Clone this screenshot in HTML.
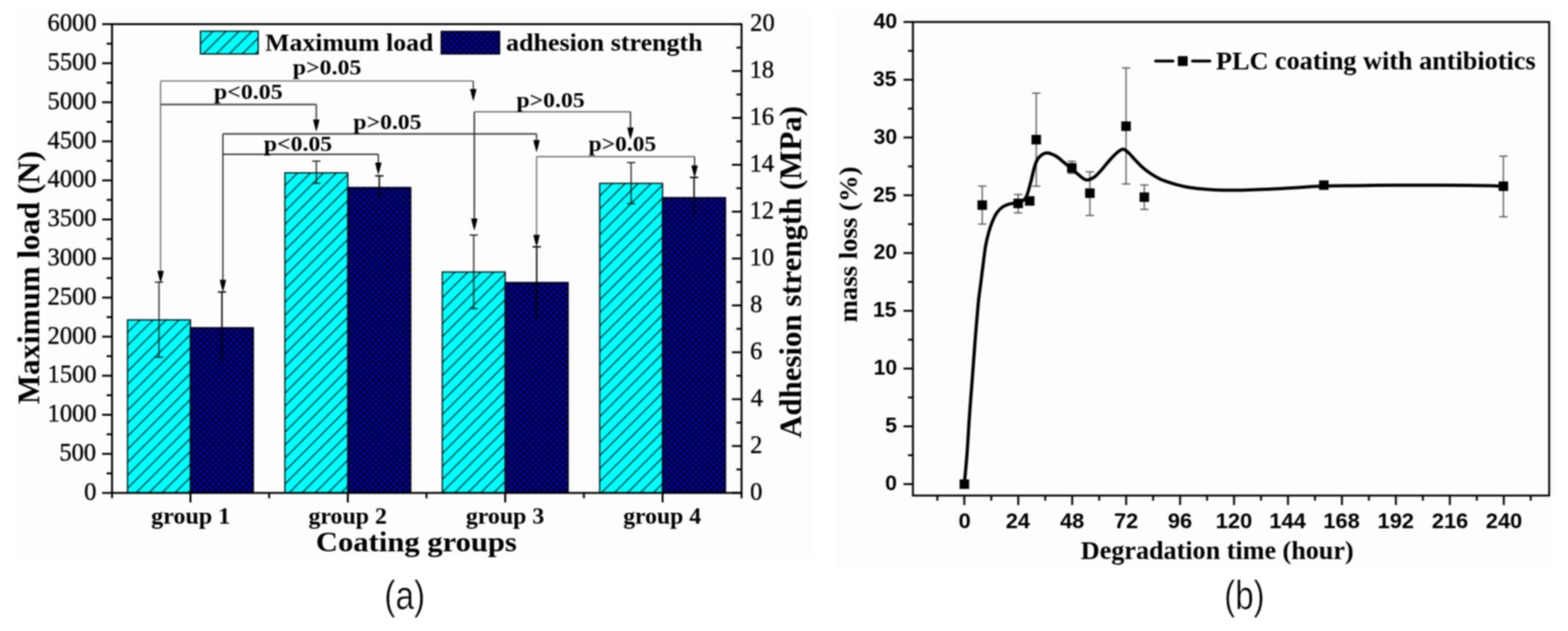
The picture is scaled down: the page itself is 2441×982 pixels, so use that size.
<!DOCTYPE html><html><head><meta charset="utf-8"><title>Figure</title><style>html,body{margin:0;padding:0;background:#fff;overflow:hidden;}svg{display:block;filter:blur(1px);}</style></head><body>
<svg width="2441" height="982" viewBox="0 0 2441 982">
<defs>
<pattern id="check" patternUnits="userSpaceOnUse" width="9.4" height="9.5">
<rect width="9.4" height="9.5" fill="#000006"/>
<rect x="0" y="0" width="4.7" height="4.75" fill="#0000c0"/>
<rect x="4.7" y="4.75" width="4.7" height="4.75" fill="#0000c0"/>
</pattern>
<filter id="soft" x="-5%" y="-5%" width="110%" height="110%"><feGaussianBlur stdDeviation="1.0"/></filter>
</defs>
<rect width="2441" height="982" fill="#ffffff"/>
<rect x="22" y="15" width="1240" height="855" fill="#fdfdfd"/>
<rect x="1300" y="16" width="1119" height="868" fill="#fdfdfd"/>
<defs><pattern id="h0" patternUnits="userSpaceOnUse" width="20.2" height="20.2" patternTransform="translate(218.30,497.80)"><rect width="20.2" height="20.2" fill="#00ffff"/><path d="M-2,2 L2,-2 M0,20.2 L20.2,0 M18.2,22.2 L22.2,18.2" stroke="#001414" stroke-width="1.6"/></pattern></defs>
<rect x="198.50" y="497.80" width="98" height="269.30" fill="url(#h0)" stroke="#000" stroke-width="1.8"/>
<g><rect x="296.50" y="510.00" width="98" height="257.10" fill="url(#check)"/></g>
<rect x="296.50" y="510.00" width="98" height="257.10" fill="none" stroke="#000" stroke-width="1.8"/>
<defs><pattern id="h1" patternUnits="userSpaceOnUse" width="20.2" height="20.2" patternTransform="translate(463.30,269.00)"><rect width="20.2" height="20.2" fill="#00ffff"/><path d="M-2,2 L2,-2 M0,20.2 L20.2,0 M18.2,22.2 L22.2,18.2" stroke="#001414" stroke-width="1.6"/></pattern></defs>
<rect x="443.50" y="269.00" width="98" height="498.10" fill="url(#h1)" stroke="#000" stroke-width="1.8"/>
<g><rect x="541.50" y="291.70" width="98" height="475.40" fill="url(#check)"/></g>
<rect x="541.50" y="291.70" width="98" height="475.40" fill="none" stroke="#000" stroke-width="1.8"/>
<defs><pattern id="h2" patternUnits="userSpaceOnUse" width="20.2" height="20.2" patternTransform="translate(708.30,423.30)"><rect width="20.2" height="20.2" fill="#00ffff"/><path d="M-2,2 L2,-2 M0,20.2 L20.2,0 M18.2,22.2 L22.2,18.2" stroke="#001414" stroke-width="1.6"/></pattern></defs>
<rect x="688.50" y="423.30" width="98" height="343.80" fill="url(#h2)" stroke="#000" stroke-width="1.8"/>
<g><rect x="786.50" y="439.60" width="98" height="327.50" fill="url(#check)"/></g>
<rect x="786.50" y="439.60" width="98" height="327.50" fill="none" stroke="#000" stroke-width="1.8"/>
<defs><pattern id="h3" patternUnits="userSpaceOnUse" width="20.2" height="20.2" patternTransform="translate(953.30,285.30)"><rect width="20.2" height="20.2" fill="#00ffff"/><path d="M-2,2 L2,-2 M0,20.2 L20.2,0 M18.2,22.2 L22.2,18.2" stroke="#001414" stroke-width="1.6"/></pattern></defs>
<rect x="933.50" y="285.30" width="98" height="481.80" fill="url(#h3)" stroke="#000" stroke-width="1.8"/>
<g><rect x="1031.50" y="307.50" width="98" height="459.60" fill="url(#check)"/></g>
<rect x="1031.50" y="307.50" width="98" height="459.60" fill="none" stroke="#000" stroke-width="1.8"/>
<line x1="247.50" y1="439.10" x2="247.50" y2="555.90" stroke="#111" stroke-width="1.8" />
<line x1="241.00" y1="439.10" x2="254.00" y2="439.10" stroke="#111" stroke-width="1.8" />
<line x1="241.00" y1="555.90" x2="254.00" y2="555.90" stroke="#111" stroke-width="1.8" />
<line x1="345.50" y1="454.40" x2="345.50" y2="565.60" stroke="#000" stroke-width="2.2" />
<line x1="339.00" y1="454.40" x2="352.00" y2="454.40" stroke="#000" stroke-width="2.2" />
<line x1="492.50" y1="250.70" x2="492.50" y2="285.30" stroke="#111" stroke-width="1.8" />
<line x1="486.00" y1="250.70" x2="499.00" y2="250.70" stroke="#111" stroke-width="1.8" />
<line x1="486.00" y1="285.30" x2="499.00" y2="285.30" stroke="#111" stroke-width="1.8" />
<line x1="590.50" y1="273.70" x2="590.50" y2="309.70" stroke="#000" stroke-width="2.2" />
<line x1="584.00" y1="273.70" x2="597.00" y2="273.70" stroke="#000" stroke-width="2.2" />
<line x1="737.50" y1="365.80" x2="737.50" y2="480.30" stroke="#111" stroke-width="1.8" />
<line x1="731.00" y1="365.80" x2="744.00" y2="365.80" stroke="#111" stroke-width="1.8" />
<line x1="731.00" y1="480.30" x2="744.00" y2="480.30" stroke="#111" stroke-width="1.8" />
<line x1="835.50" y1="384.10" x2="835.50" y2="495.00" stroke="#000" stroke-width="2.2" />
<line x1="829.00" y1="384.10" x2="842.00" y2="384.10" stroke="#000" stroke-width="2.2" />
<line x1="982.50" y1="253.10" x2="982.50" y2="316.90" stroke="#111" stroke-width="1.8" />
<line x1="976.00" y1="253.10" x2="989.00" y2="253.10" stroke="#111" stroke-width="1.8" />
<line x1="976.00" y1="316.90" x2="989.00" y2="316.90" stroke="#111" stroke-width="1.8" />
<line x1="1080.50" y1="276.10" x2="1080.50" y2="339.00" stroke="#000" stroke-width="2.2" />
<line x1="1074.00" y1="276.10" x2="1087.00" y2="276.10" stroke="#000" stroke-width="2.2" />
<path d="M250.00,430.50 L250.00,126.00" fill="none" stroke="#7a7a7a" stroke-width="2.1"/>
<path d="M250.00,126.00 L736.80,126.00" fill="none" stroke="#7a7a7a" stroke-width="2.1"/>
<path d="M736.80,126.00 L736.80,147.50" fill="none" stroke="#444" stroke-width="2.1"/>
<path d="M250.00,162.60 L492.40,162.60" fill="none" stroke="#333" stroke-width="2.1"/>
<path d="M492.40,162.60 L492.40,195.00" fill="none" stroke="#333" stroke-width="2.1"/>
<path d="M347.00,444.50 L347.00,208.40" fill="none" stroke="#333" stroke-width="2.1"/>
<path d="M347.00,208.40 L835.30,208.40" fill="none" stroke="#333" stroke-width="2.1"/>
<path d="M835.30,208.40 L835.30,227.00" fill="none" stroke="#333" stroke-width="2.1"/>
<path d="M347.00,240.10 L589.00,240.10" fill="none" stroke="#333" stroke-width="2.1"/>
<path d="M589.00,240.10 L589.00,262.00" fill="none" stroke="#333" stroke-width="2.1"/>
<path d="M738.40,349.00 L738.40,174.00" fill="none" stroke="#222" stroke-width="2.1"/>
<path d="M738.40,174.00 L981.50,174.00" fill="none" stroke="#666" stroke-width="2.1"/>
<path d="M981.50,174.00 L981.50,207.50" fill="none" stroke="#333" stroke-width="2.1"/>
<path d="M835.30,374.50 L835.30,243.80" fill="none" stroke="#777" stroke-width="2.1"/>
<path d="M835.30,243.80 L1081.30,243.80" fill="none" stroke="#666" stroke-width="2.1"/>
<path d="M1081.30,243.80 L1081.30,266.50" fill="none" stroke="#333" stroke-width="2.1"/>
<rect x="174.4" y="37.6" width="980.0000000000001" height="729.5" fill="none" stroke="#000" stroke-width="3"/>
<line x1="159.00" y1="767.10" x2="174.40" y2="767.10" stroke="#000" stroke-width="3" />
<line x1="166.00" y1="736.70" x2="174.40" y2="736.70" stroke="#000" stroke-width="3" />
<line x1="159.00" y1="706.31" x2="174.40" y2="706.31" stroke="#000" stroke-width="3" />
<line x1="166.00" y1="675.91" x2="174.40" y2="675.91" stroke="#000" stroke-width="3" />
<line x1="159.00" y1="645.52" x2="174.40" y2="645.52" stroke="#000" stroke-width="3" />
<line x1="166.00" y1="615.12" x2="174.40" y2="615.12" stroke="#000" stroke-width="3" />
<line x1="159.00" y1="584.73" x2="174.40" y2="584.73" stroke="#000" stroke-width="3" />
<line x1="166.00" y1="554.33" x2="174.40" y2="554.33" stroke="#000" stroke-width="3" />
<line x1="159.00" y1="523.93" x2="174.40" y2="523.93" stroke="#000" stroke-width="3" />
<line x1="166.00" y1="493.54" x2="174.40" y2="493.54" stroke="#000" stroke-width="3" />
<line x1="159.00" y1="463.14" x2="174.40" y2="463.14" stroke="#000" stroke-width="3" />
<line x1="166.00" y1="432.75" x2="174.40" y2="432.75" stroke="#000" stroke-width="3" />
<line x1="159.00" y1="402.35" x2="174.40" y2="402.35" stroke="#000" stroke-width="3" />
<line x1="166.00" y1="371.95" x2="174.40" y2="371.95" stroke="#000" stroke-width="3" />
<line x1="159.00" y1="341.56" x2="174.40" y2="341.56" stroke="#000" stroke-width="3" />
<line x1="166.00" y1="311.16" x2="174.40" y2="311.16" stroke="#000" stroke-width="3" />
<line x1="159.00" y1="280.77" x2="174.40" y2="280.77" stroke="#000" stroke-width="3" />
<line x1="166.00" y1="250.37" x2="174.40" y2="250.37" stroke="#000" stroke-width="3" />
<line x1="159.00" y1="219.98" x2="174.40" y2="219.98" stroke="#000" stroke-width="3" />
<line x1="166.00" y1="189.58" x2="174.40" y2="189.58" stroke="#000" stroke-width="3" />
<line x1="159.00" y1="159.18" x2="174.40" y2="159.18" stroke="#000" stroke-width="3" />
<line x1="166.00" y1="128.79" x2="174.40" y2="128.79" stroke="#000" stroke-width="3" />
<line x1="159.00" y1="98.39" x2="174.40" y2="98.39" stroke="#000" stroke-width="3" />
<line x1="166.00" y1="68.00" x2="174.40" y2="68.00" stroke="#000" stroke-width="3" />
<line x1="159.00" y1="37.60" x2="174.40" y2="37.60" stroke="#000" stroke-width="3" />
<line x1="1139.40" y1="767.10" x2="1154.40" y2="767.10" stroke="#000" stroke-width="3" />
<line x1="1146.40" y1="730.62" x2="1154.40" y2="730.62" stroke="#000" stroke-width="3" />
<line x1="1139.40" y1="694.15" x2="1154.40" y2="694.15" stroke="#000" stroke-width="3" />
<line x1="1146.40" y1="657.68" x2="1154.40" y2="657.68" stroke="#000" stroke-width="3" />
<line x1="1139.40" y1="621.20" x2="1154.40" y2="621.20" stroke="#000" stroke-width="3" />
<line x1="1146.40" y1="584.73" x2="1154.40" y2="584.73" stroke="#000" stroke-width="3" />
<line x1="1139.40" y1="548.25" x2="1154.40" y2="548.25" stroke="#000" stroke-width="3" />
<line x1="1146.40" y1="511.78" x2="1154.40" y2="511.78" stroke="#000" stroke-width="3" />
<line x1="1139.40" y1="475.30" x2="1154.40" y2="475.30" stroke="#000" stroke-width="3" />
<line x1="1146.40" y1="438.83" x2="1154.40" y2="438.83" stroke="#000" stroke-width="3" />
<line x1="1139.40" y1="402.35" x2="1154.40" y2="402.35" stroke="#000" stroke-width="3" />
<line x1="1146.40" y1="365.88" x2="1154.40" y2="365.88" stroke="#000" stroke-width="3" />
<line x1="1139.40" y1="329.40" x2="1154.40" y2="329.40" stroke="#000" stroke-width="3" />
<line x1="1146.40" y1="292.93" x2="1154.40" y2="292.93" stroke="#000" stroke-width="3" />
<line x1="1139.40" y1="256.45" x2="1154.40" y2="256.45" stroke="#000" stroke-width="3" />
<line x1="1146.40" y1="219.98" x2="1154.40" y2="219.98" stroke="#000" stroke-width="3" />
<line x1="1139.40" y1="183.50" x2="1154.40" y2="183.50" stroke="#000" stroke-width="3" />
<line x1="1146.40" y1="147.02" x2="1154.40" y2="147.02" stroke="#000" stroke-width="3" />
<line x1="1139.40" y1="110.55" x2="1154.40" y2="110.55" stroke="#000" stroke-width="3" />
<line x1="1146.40" y1="74.08" x2="1154.40" y2="74.08" stroke="#000" stroke-width="3" />
<line x1="1139.40" y1="37.60" x2="1154.40" y2="37.60" stroke="#000" stroke-width="3" />
<line x1="296.50" y1="767.10" x2="296.50" y2="782.00" stroke="#000" stroke-width="3" />
<line x1="541.50" y1="767.10" x2="541.50" y2="782.00" stroke="#000" stroke-width="3" />
<line x1="786.50" y1="767.10" x2="786.50" y2="782.00" stroke="#000" stroke-width="3" />
<line x1="1031.50" y1="767.10" x2="1031.50" y2="782.00" stroke="#000" stroke-width="3" />
<line x1="174.40" y1="767.10" x2="174.40" y2="775.50" stroke="#000" stroke-width="3" />
<line x1="419.00" y1="767.10" x2="419.00" y2="775.50" stroke="#000" stroke-width="3" />
<line x1="664.00" y1="767.10" x2="664.00" y2="775.50" stroke="#000" stroke-width="3" />
<line x1="909.00" y1="767.10" x2="909.00" y2="775.50" stroke="#000" stroke-width="3" />
<line x1="1154.40" y1="767.10" x2="1154.40" y2="775.50" stroke="#000" stroke-width="3" />
<defs><pattern id="hl" patternUnits="userSpaceOnUse" width="20.2" height="20.2" patternTransform="translate(331.80,48.50)"><rect width="20.2" height="20.2" fill="#00ffff"/><path d="M-2,2 L2,-2 M0,20.2 L20.2,0 M18.2,22.2 L22.2,18.2" stroke="#001414" stroke-width="1.6"/></pattern></defs>
<rect x="312" y="48.5" width="90" height="35.5" fill="url(#hl)" stroke="#000" stroke-width="1.8"/>
<g><rect x="686.8" y="48.8" width="91" height="35.2" fill="url(#check)"/></g>
<rect x="686.8" y="48.8" width="91" height="35.2" fill="none" stroke="#000" stroke-width="1.8"/>
<line x1="1529.10" y1="289.60" x2="1529.10" y2="348.70" stroke="#555" stroke-width="1.9" />
<line x1="1522.60" y1="289.60" x2="1535.60" y2="289.60" stroke="#555" stroke-width="1.9" />
<line x1="1522.60" y1="348.70" x2="1535.60" y2="348.70" stroke="#555" stroke-width="1.9" />
<line x1="1585.00" y1="302.60" x2="1585.00" y2="331.30" stroke="#555" stroke-width="1.9" />
<line x1="1578.50" y1="302.60" x2="1591.50" y2="302.60" stroke="#555" stroke-width="1.9" />
<line x1="1578.50" y1="331.30" x2="1591.50" y2="331.30" stroke="#555" stroke-width="1.9" />
<line x1="1613.20" y1="145.00" x2="1613.20" y2="289.70" stroke="#555" stroke-width="1.9" />
<line x1="1606.70" y1="145.00" x2="1619.70" y2="145.00" stroke="#555" stroke-width="1.9" />
<line x1="1606.70" y1="289.70" x2="1619.70" y2="289.70" stroke="#555" stroke-width="1.9" />
<line x1="1668.60" y1="251.10" x2="1668.60" y2="269.70" stroke="#555" stroke-width="1.9" />
<line x1="1662.10" y1="251.10" x2="1675.10" y2="251.10" stroke="#555" stroke-width="1.9" />
<line x1="1662.10" y1="269.70" x2="1675.10" y2="269.70" stroke="#555" stroke-width="1.9" />
<line x1="1696.70" y1="267.40" x2="1696.70" y2="335.30" stroke="#555" stroke-width="1.9" />
<line x1="1690.20" y1="267.40" x2="1703.20" y2="267.40" stroke="#555" stroke-width="1.9" />
<line x1="1690.20" y1="335.30" x2="1703.20" y2="335.30" stroke="#555" stroke-width="1.9" />
<line x1="1753.00" y1="105.70" x2="1753.00" y2="286.30" stroke="#555" stroke-width="1.9" />
<line x1="1746.50" y1="105.70" x2="1759.50" y2="105.70" stroke="#555" stroke-width="1.9" />
<line x1="1746.50" y1="286.30" x2="1759.50" y2="286.30" stroke="#555" stroke-width="1.9" />
<line x1="1781.40" y1="287.80" x2="1781.40" y2="325.90" stroke="#555" stroke-width="1.9" />
<line x1="1774.90" y1="287.80" x2="1787.90" y2="287.80" stroke="#555" stroke-width="1.9" />
<line x1="1774.90" y1="325.90" x2="1787.90" y2="325.90" stroke="#555" stroke-width="1.9" />
<line x1="2340.40" y1="243.00" x2="2340.40" y2="337.40" stroke="#555" stroke-width="1.9" />
<line x1="2333.90" y1="243.00" x2="2346.90" y2="243.00" stroke="#555" stroke-width="1.9" />
<line x1="2333.90" y1="337.40" x2="2346.90" y2="337.40" stroke="#555" stroke-width="1.9" />
<path d="M1501.20,753.40 C1501.90,745.62 1504.07,724.35 1505.40,706.70 C1506.73,689.05 1507.82,667.23 1509.20,647.50 C1510.58,627.77 1512.22,608.02 1513.70,588.30 C1515.18,568.58 1516.53,548.92 1518.10,529.20 C1519.67,509.48 1521.77,483.78 1523.10,470.00 C1524.43,456.22 1524.83,456.52 1526.10,446.50 C1527.37,436.48 1529.32,420.58 1530.70,409.90 C1532.08,399.22 1533.02,390.33 1534.40,382.40 C1535.78,374.47 1537.32,368.40 1539.00,362.30 C1540.68,356.20 1542.37,351.00 1544.50,345.80 C1546.63,340.60 1549.07,335.07 1551.80,331.10 C1554.53,327.13 1557.55,324.28 1560.90,322.00 C1564.25,319.72 1568.72,318.37 1571.90,317.40 C1575.08,316.43 1577.65,316.53 1580.00,316.20 C1582.35,315.87 1583.53,316.35 1586.00,315.40 C1588.47,314.45 1592.63,312.53 1594.80,310.50 C1596.97,308.47 1597.37,307.68 1599.00,303.20 C1600.63,298.72 1602.65,290.97 1604.60,283.60 C1606.55,276.23 1608.65,265.35 1610.70,259.00 C1612.75,252.65 1613.82,248.98 1616.90,245.50 C1619.98,242.02 1624.70,238.52 1629.20,238.10 C1633.70,237.68 1639.40,240.55 1643.90,243.00 C1648.40,245.45 1652.10,249.52 1656.20,252.80 C1660.30,256.08 1664.82,259.62 1668.50,262.70 C1672.18,265.78 1674.62,268.43 1678.30,271.30 C1681.98,274.17 1686.50,279.08 1690.60,279.90 C1694.70,280.72 1698.80,278.87 1702.90,276.20 C1707.00,273.53 1711.10,268.40 1715.20,263.90 C1719.30,259.40 1723.40,253.70 1727.50,249.20 C1731.60,244.70 1736.33,239.73 1739.80,236.90 C1743.27,234.07 1745.52,232.12 1748.30,232.20 C1751.08,232.28 1753.30,234.55 1756.50,237.40 C1759.70,240.25 1763.83,245.48 1767.50,249.30 C1771.17,253.12 1774.68,256.93 1778.50,260.30 C1782.32,263.67 1786.12,266.60 1790.40,269.50 C1794.68,272.40 1799.62,275.42 1804.20,277.70 C1808.78,279.98 1813.32,281.58 1817.90,283.20 C1822.48,284.82 1826.35,286.02 1831.70,287.40 C1837.05,288.78 1843.90,290.43 1850.00,291.50 C1856.10,292.57 1862.18,293.18 1868.30,293.80 C1874.42,294.42 1880.58,294.85 1886.70,295.20 C1892.82,295.55 1898.90,295.75 1905.00,295.90 C1911.10,296.05 1917.47,296.12 1923.30,296.10 C1929.13,296.08 1930.05,296.13 1940.00,295.80 C1949.95,295.47 1968.67,294.82 1983.00,294.10 C1997.33,293.38 2013.10,292.25 2026.00,291.50 C2038.90,290.75 2046.07,290.03 2060.40,289.60 C2074.73,289.17 2094.78,289.12 2112.00,288.90 C2129.22,288.68 2146.48,288.42 2163.70,288.30 C2180.92,288.18 2195.23,288.18 2215.30,288.20 C2235.37,288.22 2266.90,288.27 2284.10,288.40 C2301.30,288.53 2309.12,288.77 2318.50,289.00 C2327.88,289.23 2336.75,289.67 2340.40,289.80" fill="none" stroke="#000" stroke-width="5" stroke-linejoin="round" stroke-linecap="round"/>
<rect x="1493.90" y="746.10" width="14.8" height="14.8" fill="#000"/>
<rect x="1521.70" y="311.80" width="14.8" height="14.8" fill="#000"/>
<rect x="1577.60" y="309.20" width="14.8" height="14.8" fill="#000"/>
<rect x="1595.60" y="305.30" width="14.8" height="14.8" fill="#000"/>
<rect x="1605.80" y="209.90" width="14.8" height="14.8" fill="#000"/>
<rect x="1661.20" y="253.90" width="14.8" height="14.8" fill="#000"/>
<rect x="1689.30" y="293.20" width="14.8" height="14.8" fill="#000"/>
<rect x="1745.60" y="189.00" width="14.8" height="14.8" fill="#000"/>
<rect x="1774.00" y="299.40" width="14.8" height="14.8" fill="#000"/>
<rect x="2053.50" y="280.70" width="14.8" height="14.8" fill="#000"/>
<rect x="2333.00" y="282.40" width="14.8" height="14.8" fill="#000"/>
<rect x="1421.2" y="34.2" width="990.4999999999998" height="737.0" fill="none" stroke="#000" stroke-width="3"/>
<line x1="1406.50" y1="753.40" x2="1421.20" y2="753.40" stroke="#000" stroke-width="3" />
<line x1="1413.50" y1="708.45" x2="1421.20" y2="708.45" stroke="#000" stroke-width="3" />
<line x1="1406.50" y1="663.50" x2="1421.20" y2="663.50" stroke="#000" stroke-width="3" />
<line x1="1413.50" y1="618.55" x2="1421.20" y2="618.55" stroke="#000" stroke-width="3" />
<line x1="1406.50" y1="573.60" x2="1421.20" y2="573.60" stroke="#000" stroke-width="3" />
<line x1="1413.50" y1="528.65" x2="1421.20" y2="528.65" stroke="#000" stroke-width="3" />
<line x1="1406.50" y1="483.70" x2="1421.20" y2="483.70" stroke="#000" stroke-width="3" />
<line x1="1413.50" y1="438.75" x2="1421.20" y2="438.75" stroke="#000" stroke-width="3" />
<line x1="1406.50" y1="393.80" x2="1421.20" y2="393.80" stroke="#000" stroke-width="3" />
<line x1="1413.50" y1="348.85" x2="1421.20" y2="348.85" stroke="#000" stroke-width="3" />
<line x1="1406.50" y1="303.90" x2="1421.20" y2="303.90" stroke="#000" stroke-width="3" />
<line x1="1413.50" y1="258.95" x2="1421.20" y2="258.95" stroke="#000" stroke-width="3" />
<line x1="1406.50" y1="214.00" x2="1421.20" y2="214.00" stroke="#000" stroke-width="3" />
<line x1="1413.50" y1="169.05" x2="1421.20" y2="169.05" stroke="#000" stroke-width="3" />
<line x1="1406.50" y1="124.10" x2="1421.20" y2="124.10" stroke="#000" stroke-width="3" />
<line x1="1413.50" y1="79.15" x2="1421.20" y2="79.15" stroke="#000" stroke-width="3" />
<line x1="1406.50" y1="34.20" x2="1421.20" y2="34.20" stroke="#000" stroke-width="3" />
<line x1="1459.21" y1="771.20" x2="1459.21" y2="779.20" stroke="#000" stroke-width="3" />
<line x1="1501.20" y1="771.20" x2="1501.20" y2="786.00" stroke="#000" stroke-width="3" />
<line x1="1543.19" y1="771.20" x2="1543.19" y2="779.20" stroke="#000" stroke-width="3" />
<line x1="1585.18" y1="771.20" x2="1585.18" y2="786.00" stroke="#000" stroke-width="3" />
<line x1="1627.17" y1="771.20" x2="1627.17" y2="779.20" stroke="#000" stroke-width="3" />
<line x1="1669.16" y1="771.20" x2="1669.16" y2="786.00" stroke="#000" stroke-width="3" />
<line x1="1711.15" y1="771.20" x2="1711.15" y2="779.20" stroke="#000" stroke-width="3" />
<line x1="1753.14" y1="771.20" x2="1753.14" y2="786.00" stroke="#000" stroke-width="3" />
<line x1="1795.13" y1="771.20" x2="1795.13" y2="779.20" stroke="#000" stroke-width="3" />
<line x1="1837.12" y1="771.20" x2="1837.12" y2="786.00" stroke="#000" stroke-width="3" />
<line x1="1879.11" y1="771.20" x2="1879.11" y2="779.20" stroke="#000" stroke-width="3" />
<line x1="1921.10" y1="771.20" x2="1921.10" y2="786.00" stroke="#000" stroke-width="3" />
<line x1="1963.09" y1="771.20" x2="1963.09" y2="779.20" stroke="#000" stroke-width="3" />
<line x1="2005.08" y1="771.20" x2="2005.08" y2="786.00" stroke="#000" stroke-width="3" />
<line x1="2047.08" y1="771.20" x2="2047.08" y2="779.20" stroke="#000" stroke-width="3" />
<line x1="2089.07" y1="771.20" x2="2089.07" y2="786.00" stroke="#000" stroke-width="3" />
<line x1="2131.06" y1="771.20" x2="2131.06" y2="779.20" stroke="#000" stroke-width="3" />
<line x1="2173.05" y1="771.20" x2="2173.05" y2="786.00" stroke="#000" stroke-width="3" />
<line x1="2215.04" y1="771.20" x2="2215.04" y2="779.20" stroke="#000" stroke-width="3" />
<line x1="2257.03" y1="771.20" x2="2257.03" y2="786.00" stroke="#000" stroke-width="3" />
<line x1="2299.02" y1="771.20" x2="2299.02" y2="779.20" stroke="#000" stroke-width="3" />
<line x1="2341.01" y1="771.20" x2="2341.01" y2="786.00" stroke="#000" stroke-width="3" />
<line x1="2383.00" y1="771.20" x2="2383.00" y2="779.20" stroke="#000" stroke-width="3" />
<line x1="1799.00" y1="95.00" x2="1826.00" y2="95.00" stroke="#000" stroke-width="4.6" stroke-linecap="round"/>
<line x1="1856.50" y1="95.00" x2="1883.50" y2="95.00" stroke="#000" stroke-width="4.6" stroke-linecap="round"/>
<rect x="1833.6" y="87.4" width="15.3" height="15.3" fill="#000"/>
<text x="455.70" y="116.00" font-family='"Liberation Serif", serif' font-size="34.5" font-weight="bold"  textLength="107.03" lengthAdjust="spacingAndGlyphs">p&gt;0.05</text>
<text x="333.00" y="154.40" font-family='"Liberation Serif", serif' font-size="34.5" font-weight="bold"  textLength="107.03" lengthAdjust="spacingAndGlyphs">p&lt;0.05</text>
<text x="550.10" y="200.50" font-family='"Liberation Serif", serif' font-size="34.5" font-weight="bold"  textLength="106.22" lengthAdjust="spacingAndGlyphs">p&gt;0.05</text>
<text x="410.80" y="234.60" font-family='"Liberation Serif", serif' font-size="34.5" font-weight="bold"  textLength="106.32" lengthAdjust="spacingAndGlyphs">p&lt;0.05</text>
<text x="803.90" y="167.00" font-family='"Liberation Serif", serif' font-size="34.5" font-weight="bold"  textLength="106.32" lengthAdjust="spacingAndGlyphs">p&gt;0.05</text>
<text x="916.30" y="234.70" font-family='"Liberation Serif", serif' font-size="34.5" font-weight="bold"  textLength="105.21" lengthAdjust="spacingAndGlyphs">p&gt;0.05</text>
<text x="131.03" y="777.80" font-family='"Liberation Serif", serif' font-size="39.5" font-weight="normal" stroke="#000" stroke-width="0.5" textLength="19.06" lengthAdjust="spacingAndGlyphs">0</text>
<text x="92.43" y="717.01" font-family='"Liberation Serif", serif' font-size="39.5" font-weight="normal" stroke="#000" stroke-width="0.5" textLength="57.18" lengthAdjust="spacingAndGlyphs">500</text>
<text x="74.10" y="656.22" font-family='"Liberation Serif", serif' font-size="39.5" font-weight="normal" stroke="#000" stroke-width="0.5" textLength="76.23" lengthAdjust="spacingAndGlyphs">1000</text>
<text x="74.10" y="595.43" font-family='"Liberation Serif", serif' font-size="39.5" font-weight="normal" stroke="#000" stroke-width="0.5" textLength="76.23" lengthAdjust="spacingAndGlyphs">1500</text>
<text x="74.10" y="534.63" font-family='"Liberation Serif", serif' font-size="39.5" font-weight="normal" stroke="#000" stroke-width="0.5" textLength="76.23" lengthAdjust="spacingAndGlyphs">2000</text>
<text x="74.10" y="473.84" font-family='"Liberation Serif", serif' font-size="39.5" font-weight="normal" stroke="#000" stroke-width="0.5" textLength="76.23" lengthAdjust="spacingAndGlyphs">2500</text>
<text x="74.10" y="413.05" font-family='"Liberation Serif", serif' font-size="39.5" font-weight="normal" stroke="#000" stroke-width="0.5" textLength="76.23" lengthAdjust="spacingAndGlyphs">3000</text>
<text x="74.10" y="352.26" font-family='"Liberation Serif", serif' font-size="39.5" font-weight="normal" stroke="#000" stroke-width="0.5" textLength="76.23" lengthAdjust="spacingAndGlyphs">3500</text>
<text x="74.10" y="291.47" font-family='"Liberation Serif", serif' font-size="39.5" font-weight="normal" stroke="#000" stroke-width="0.5" textLength="76.23" lengthAdjust="spacingAndGlyphs">4000</text>
<text x="74.10" y="230.68" font-family='"Liberation Serif", serif' font-size="39.5" font-weight="normal" stroke="#000" stroke-width="0.5" textLength="76.23" lengthAdjust="spacingAndGlyphs">4500</text>
<text x="74.10" y="169.88" font-family='"Liberation Serif", serif' font-size="39.5" font-weight="normal" stroke="#000" stroke-width="0.5" textLength="76.23" lengthAdjust="spacingAndGlyphs">5000</text>
<text x="74.10" y="109.09" font-family='"Liberation Serif", serif' font-size="39.5" font-weight="normal" stroke="#000" stroke-width="0.5" textLength="76.23" lengthAdjust="spacingAndGlyphs">5500</text>
<text x="74.10" y="48.30" font-family='"Liberation Serif", serif' font-size="39.5" font-weight="normal" stroke="#000" stroke-width="0.5" textLength="76.23" lengthAdjust="spacingAndGlyphs">6000</text>
<text x="1167.87" y="777.80" font-family='"Liberation Serif", serif' font-size="39.5" font-weight="normal" stroke="#000" stroke-width="0.5" textLength="19.06" lengthAdjust="spacingAndGlyphs">0</text>
<text x="1167.87" y="704.85" font-family='"Liberation Serif", serif' font-size="39.5" font-weight="normal" stroke="#000" stroke-width="0.5" textLength="19.06" lengthAdjust="spacingAndGlyphs">2</text>
<text x="1168.84" y="631.90" font-family='"Liberation Serif", serif' font-size="39.5" font-weight="normal" stroke="#000" stroke-width="0.5" textLength="19.06" lengthAdjust="spacingAndGlyphs">4</text>
<text x="1167.87" y="558.95" font-family='"Liberation Serif", serif' font-size="39.5" font-weight="normal" stroke="#000" stroke-width="0.5" textLength="19.06" lengthAdjust="spacingAndGlyphs">6</text>
<text x="1167.87" y="486.00" font-family='"Liberation Serif", serif' font-size="39.5" font-weight="normal" stroke="#000" stroke-width="0.5" textLength="19.06" lengthAdjust="spacingAndGlyphs">8</text>
<text x="1166.90" y="413.05" font-family='"Liberation Serif", serif' font-size="39.5" font-weight="normal" stroke="#000" stroke-width="0.5" textLength="38.12" lengthAdjust="spacingAndGlyphs">10</text>
<text x="1166.90" y="340.10" font-family='"Liberation Serif", serif' font-size="39.5" font-weight="normal" stroke="#000" stroke-width="0.5" textLength="38.12" lengthAdjust="spacingAndGlyphs">12</text>
<text x="1166.90" y="267.15" font-family='"Liberation Serif", serif' font-size="39.5" font-weight="normal" stroke="#000" stroke-width="0.5" textLength="38.12" lengthAdjust="spacingAndGlyphs">14</text>
<text x="1166.90" y="194.20" font-family='"Liberation Serif", serif' font-size="39.5" font-weight="normal" stroke="#000" stroke-width="0.5" textLength="38.12" lengthAdjust="spacingAndGlyphs">16</text>
<text x="1166.90" y="121.25" font-family='"Liberation Serif", serif' font-size="39.5" font-weight="normal" stroke="#000" stroke-width="0.5" textLength="38.12" lengthAdjust="spacingAndGlyphs">18</text>
<text x="1167.87" y="48.30" font-family='"Liberation Serif", serif' font-size="39.5" font-weight="normal" stroke="#000" stroke-width="0.5" textLength="38.12" lengthAdjust="spacingAndGlyphs">20</text>
<text x="235.16" y="815.00" font-family='"Liberation Serif", serif' font-size="36" font-weight="bold"  textLength="123.32" lengthAdjust="spacingAndGlyphs">group 1</text>
<text x="480.17" y="815.00" font-family='"Liberation Serif", serif' font-size="36" font-weight="bold"  textLength="122.25" lengthAdjust="spacingAndGlyphs">group 2</text>
<text x="725.17" y="815.00" font-family='"Liberation Serif", serif' font-size="36" font-weight="bold"  textLength="122.25" lengthAdjust="spacingAndGlyphs">group 3</text>
<text x="970.18" y="815.00" font-family='"Liberation Serif", serif' font-size="36" font-weight="bold"  textLength="121.21" lengthAdjust="spacingAndGlyphs">group 4</text>
<text x="491.87" y="857.80" font-family='"Liberation Serif", serif' font-size="44.7" font-weight="bold"  textLength="312.66" lengthAdjust="spacingAndGlyphs">Coating groups</text>
<text x="-1.01" y="0" transform="translate(61.00,628.00) rotate(-90)" font-family='"Liberation Serif", serif' font-size="48" font-weight="bold"  textLength="393.98" lengthAdjust="spacingAndGlyphs">Maximum load (N)</text>
<text x="0.00" y="0" transform="translate(1247.00,681.40) rotate(-90)" font-family='"Liberation Serif", serif' font-size="48" font-weight="bold"  textLength="516.35" lengthAdjust="spacingAndGlyphs">Adhesion strength (MPa)</text>
<text x="412.84" y="79.20" font-family='"Liberation Serif", serif' font-size="38" font-weight="bold"  textLength="261.72" lengthAdjust="spacingAndGlyphs">Maximum load</text>
<text x="787.74" y="79.00" font-family='"Liberation Serif", serif' font-size="38" font-weight="bold"  textLength="306.03" lengthAdjust="spacingAndGlyphs">adhesion strength</text>
<text x="598.30" y="948.30" font-family='"Liberation Sans", sans-serif' font-size="63" font-weight="normal" stroke="#fff" stroke-width="0.7" textLength="63.61" lengthAdjust="spacingAndGlyphs">(a)</text>
<text x="1377.90" y="763.00" font-family='"Liberation Sans", sans-serif' font-size="33" font-weight="bold" >0</text>
<text x="1377.90" y="673.10" font-family='"Liberation Sans", sans-serif' font-size="33" font-weight="bold" >5</text>
<text x="1359.90" y="583.20" font-family='"Liberation Sans", sans-serif' font-size="33" font-weight="bold" >10</text>
<text x="1358.90" y="493.30" font-family='"Liberation Sans", sans-serif' font-size="33" font-weight="bold" >15</text>
<text x="1359.90" y="403.40" font-family='"Liberation Sans", sans-serif' font-size="33" font-weight="bold" >20</text>
<text x="1358.90" y="313.50" font-family='"Liberation Sans", sans-serif' font-size="33" font-weight="bold" >25</text>
<text x="1359.90" y="223.60" font-family='"Liberation Sans", sans-serif' font-size="33" font-weight="bold" >30</text>
<text x="1358.90" y="133.70" font-family='"Liberation Sans", sans-serif' font-size="33" font-weight="bold" >35</text>
<text x="1359.90" y="43.80" font-family='"Liberation Sans", sans-serif' font-size="33" font-weight="bold" >40</text>
<text x="1492.20" y="822.20" font-family='"Liberation Sans", sans-serif' font-size="34" font-weight="bold" >0</text>
<text x="1565.68" y="822.20" font-family='"Liberation Sans", sans-serif' font-size="34" font-weight="bold" >24</text>
<text x="1650.16" y="822.20" font-family='"Liberation Sans", sans-serif' font-size="34" font-weight="bold" >48</text>
<text x="1734.14" y="822.20" font-family='"Liberation Sans", sans-serif' font-size="34" font-weight="bold" >72</text>
<text x="1818.12" y="822.20" font-family='"Liberation Sans", sans-serif' font-size="34" font-weight="bold" >96</text>
<text x="1892.60" y="822.20" font-family='"Liberation Sans", sans-serif' font-size="34" font-weight="bold" >120</text>
<text x="1976.08" y="822.20" font-family='"Liberation Sans", sans-serif' font-size="34" font-weight="bold" >144</text>
<text x="2060.07" y="822.20" font-family='"Liberation Sans", sans-serif' font-size="34" font-weight="bold" >168</text>
<text x="2144.55" y="822.20" font-family='"Liberation Sans", sans-serif' font-size="34" font-weight="bold" >192</text>
<text x="2229.03" y="822.20" font-family='"Liberation Sans", sans-serif' font-size="34" font-weight="bold" >216</text>
<text x="2313.01" y="822.20" font-family='"Liberation Sans", sans-serif' font-size="34" font-weight="bold" >240</text>
<text x="-1.01" y="0" transform="translate(1334.20,500.80) rotate(-90)" font-family='"Liberation Serif", serif' font-size="41" font-weight="bold"  textLength="242.63" lengthAdjust="spacingAndGlyphs">mass loss (%)</text>
<text x="1682.60" y="869.50" font-family='"Liberation Serif", serif' font-size="40.5" font-weight="bold"  textLength="424.75" lengthAdjust="spacingAndGlyphs">Degradation time (hour)</text>
<text x="1893.00" y="107.70" font-family='"Liberation Serif", serif' font-size="41" font-weight="bold"  textLength="497.59" lengthAdjust="spacingAndGlyphs">PLC coating with antibiotics</text>
<text x="1905.72" y="948.30" font-family='"Liberation Sans", sans-serif' font-size="63" font-weight="normal" stroke="#fff" stroke-width="0.7" textLength="63.05" lengthAdjust="spacingAndGlyphs">(b)</text>
<path d="M245.00,421.50 L255.00,421.50 Q252.60,432.50 250.00,440.50 Q247.40,432.50 245.00,421.50 Z" fill="#000"/>
<path d="M731.80,138.50 L741.80,138.50 Q739.40,149.50 736.80,157.50 Q734.20,149.50 731.80,138.50 Z" fill="#000"/>
<path d="M487.40,186.00 L497.40,186.00 Q495.00,197.00 492.40,205.00 Q489.80,197.00 487.40,186.00 Z" fill="#000"/>
<path d="M342.00,435.50 L352.00,435.50 Q349.60,446.50 347.00,454.50 Q344.40,446.50 342.00,435.50 Z" fill="#000"/>
<path d="M830.30,218.00 L840.30,218.00 Q837.90,229.00 835.30,237.00 Q832.70,229.00 830.30,218.00 Z" fill="#000"/>
<path d="M584.00,253.00 L594.00,253.00 Q591.60,264.00 589.00,272.00 Q586.40,264.00 584.00,253.00 Z" fill="#000"/>
<path d="M733.40,340.00 L743.40,340.00 Q741.00,351.00 738.40,359.00 Q735.80,351.00 733.40,340.00 Z" fill="#000"/>
<path d="M976.50,198.50 L986.50,198.50 Q984.10,209.50 981.50,217.50 Q978.90,209.50 976.50,198.50 Z" fill="#000"/>
<path d="M830.30,365.50 L840.30,365.50 Q837.90,376.50 835.30,384.50 Q832.70,376.50 830.30,365.50 Z" fill="#000"/>
<path d="M1076.30,257.50 L1086.30,257.50 Q1083.90,268.50 1081.30,276.50 Q1078.70,268.50 1076.30,257.50 Z" fill="#000"/>
</svg></body></html>
